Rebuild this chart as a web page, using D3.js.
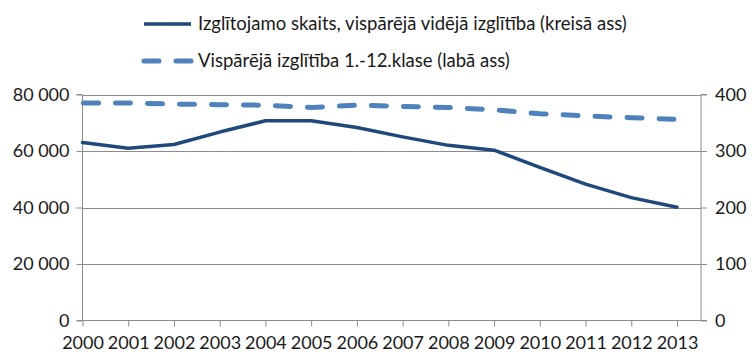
<!DOCTYPE html>
<html>
<head>
<meta charset="utf-8">
<script src="https://cdn.jsdelivr.net/npm/d3@7"></script>
<style>
  html, body { margin: 0; padding: 0; background: #fff; }
  svg { display: block; font-family: Lato, "Open Sans", sans-serif; }
</style>
</head>
<body>
<script>
// Years on the horizontal axis
const years = [2000, 2001, 2002, 2003, 2004, 2005, 2006, 2007, 2008, 2009, 2010, 2011, 2012, 2013];
// Learners in general secondary education (left axis)
const learners = [63000, 61000, 62300, 66700, 70700, 70700, 68300, 65000, 62000, 60300, 54200, 48300, 43500, 40100];
// General education, grades 1-12 (right axis)
const grades112 = [385, 385, 383, 382, 381, 377, 381, 379, 377, 373, 366, 362, 359, 356];
const leftTicks = [0, 20000, 40000, 60000, 80000];
const rightTicks = [0, 100, 200, 300, 400];
const seriesNames = [
  "Izglītojamo skaits, vispārējā vidējā izglītība (kreisā ass)",
  "Vispārējā izglītība 1.-12.klase (labā ass)"
];

const W = 752, H = 356;
const plot = { left: 82.5, right: 701, top: 94.5, bottom: 320.5 };
const solidColor = "#1F497D", dashColor = "#4F81BD", gridColor = "#8C8C8C";
const textColor = "#1a1a1a";

const svg = d3.select("body").append("svg").attr("width", W).attr("height", H);

const x = d3.scaleLinear().domain([2000, 2013]).range([plot.left, 677]);
const yL = d3.scaleLinear().domain([0, 80000]).range([plot.bottom, plot.top]);
const yR = d3.scaleLinear().domain([0, 400]).range([plot.bottom, plot.top]);

const fmt = v => d3.format(",")(v).replace(/,/g, " ");

// horizontal gridlines
svg.append("g").selectAll("line").data(leftTicks.slice(1)).join("line")
  .attr("x1", plot.left).attr("x2", plot.right)
  .attr("y1", d => Math.round(yL(d)) + 0.5).attr("y2", d => Math.round(yL(d)) + 0.5)
  .attr("stroke", gridColor).attr("stroke-width", 1);

// left axis
const gL = svg.append("g").attr("transform", `translate(${plot.left},0)`)
  .call(d3.axisLeft(yL).tickValues(leftTicks).tickSize(6).tickPadding(7).tickFormat(fmt));
// right axis
const gR = svg.append("g").attr("transform", `translate(${plot.right},0)`)
  .call(d3.axisRight(yR).tickValues(rightTicks).tickSize(6).tickPadding(8));
// bottom axis
const gB = svg.append("g").attr("transform", `translate(0,${plot.bottom})`)
  .call(d3.axisBottom(x).tickValues(years).tickSize(6).tickPadding(10).tickFormat(d3.format("d")));

[gL, gR, gB].forEach(g => {
  g.select(".domain").attr("stroke", gridColor).attr("stroke-width", 1);
  g.selectAll(".tick line").attr("stroke", gridColor);
  g.selectAll("text").attr("fill", textColor).attr("font-size", 18).attr("font-family", "Lato, 'Open Sans', sans-serif");
});
gB.select(".domain").attr("d", `M${plot.left},0H${plot.right}`);
gL.select(".domain").attr("d", `M-6,${plot.bottom}H0V${plot.top}H-6`);
gR.select(".domain").attr("d", `M6,${plot.bottom}H0V${plot.top}H6`);

// series lines
const lineL = d3.line().x((d, i) => x(years[i])).y(d => yL(d));
const lineR = d3.line().x((d, i) => x(years[i])).y(d => yR(d));

svg.append("path").datum(grades112).attr("d", lineR)
  .attr("fill", "none").attr("stroke", dashColor).attr("stroke-width", 5)
  .attr("stroke-dasharray", "15 17").attr("stroke-linecap", "round").attr("stroke-dashoffset", -1);

svg.append("path").datum(learners).attr("d", lineL)
  .attr("fill", "none").attr("stroke", solidColor).attr("stroke-width", 3.5)
  .attr("stroke-linejoin", "round").attr("stroke-linecap", "round");

// legend
const legend = svg.append("g");
const rows = [
  { name: seriesNames[0], y: 24, color: solidColor, dash: null, w: 3.5 },
  { name: seriesNames[1], y: 61, color: dashColor, dash: "15 17", w: 5 }
];
rows.forEach(r => {
  legend.append("line").attr("x1", 144).attr("x2", 191).attr("y1", r.y).attr("y2", r.y)
    .attr("stroke", r.color).attr("stroke-width", r.w)
    .attr("stroke-dasharray", r.dash).attr("stroke-linecap", r.dash ? "round" : "butt");
  legend.append("text").attr("x", 198).attr("y", r.y).attr("dy", "0.35em")
    .attr("font-size", 18.5).attr("fill", textColor).text(r.name);
});
</script>
</body>
</html>
